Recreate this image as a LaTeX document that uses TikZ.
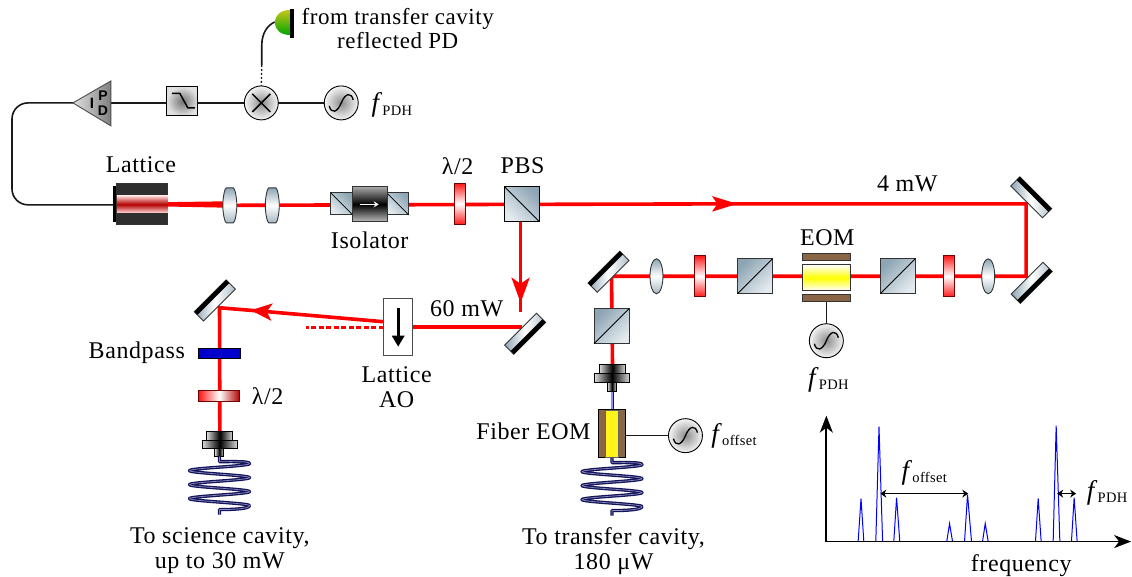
\documentclass[tikz,border=0pt]{standalone}
\usepackage{fontspec}
\setmainfont[LetterSpace=2.5]{Liberation Serif}
\setsansfont{Liberation Sans}
\usetikzlibrary{arrows.meta,shapes.geometric}
\pgfdeclarelayer{bg}
\pgfdeclarelayer{paper}
\pgfsetlayers{paper,bg,main}
\definecolor{slate}{HTML}{8DA5B4}
\definecolor{slatelight}{HTML}{E4EBEF}
\definecolor{brownplate}{HTML}{8A6647}
\definecolor{navy}{HTML}{14145A}
\definecolor{edge}{HTML}{333333}
\newcommand\fsub[1]{{\fontsize{27}{27}\selectfont\textit{f}}\kern-0.5pt\raisebox{-3.5pt}{\fontsize{14.5}{14}\selectfont #1}}
\newcommand\sinewave[1]{\draw[line width=1.3pt,shift={(#1.center)}] (-12,3) .. controls (-10,11) and (-4,10) .. (0,0) .. controls (4,-10) and (10,-11) .. (12,-3);}
\newcommand\fibercoil[1]{\draw[fiber,shift={(#1)}] (0,0) -- (0,5) .. controls (15,5) and (30,4.5) .. (30,7)
 .. controls (30,9.5) and (-30,11.5) .. (-30,14)
 .. controls (-30,16.5) and (30,18.5) .. (30,21)
 .. controls (30,23.5) and (-30,25.5) .. (-30,28)
 .. controls (-30,30.5) and (30,32.5) .. (30,35)
 .. controls (30,37.5) and (-30,39.5) .. (-30,42)
 .. controls (-30,44.5) and (30,46.5) .. (30,49)
 .. controls (30,52) and (15,53) .. (0,53) -- (0,58);}
\newcommand\mirrorunit[4]{% name, x, y, angle
 \node[mirrorbody,rotate=#4] (#1) at (#2,#3) {};
 \node[mirrorbar,rotate=#4,anchor=north] (#1bar) at (#1.north) {};}
\newcommand\barrel[2]{% name, position
 \coordinate (#1) at (#2);
 \draw[draw=edge,line width=0.9pt,top color=slate,bottom color=slate!80,middle color=white,shift={(#1)}]
  (-3.5,-17.5) -- (3.5,-17.5) .. controls (5,-17.5) and (7,-8) .. (7,0) .. controls (7,8) and (5,17.5) .. (3.5,17.5)
  -- (-3.5,17.5) .. controls (-5,17.5) and (-7,8) .. (-7,0) .. controls (-7,-8) and (-5,-17.5) .. (-3.5,-17.5) -- cycle;}
\tikzset{
 lab/.style={font=\fontsize{24}{25}\selectfont,align=center,inner sep=0pt,outer sep=0pt},
 comp/.style={rectangle,inner sep=0pt,outer sep=0pt,draw=edge,line width=0.9pt},
 beam/.style={draw=red,line width=3.6pt},
 wire/.style={draw=black!90,line width=1.6pt},
 fiber/.style={draw=navy,line width=1.3pt,double=black!10!blue!30!gray!70,double distance=0.7pt,line join=round},
 mirrorbody/.style={comp,minimum width=45pt,minimum height=13pt,left color=slate,right color=slate!70,middle color=white},
 mirrorbar/.style={rectangle,inner sep=0pt,outer sep=0pt,fill=black,minimum width=45pt,minimum height=4.5pt},
 cube/.style={comp,minimum width=35pt,minimum height=35pt,top color=slate,bottom color=slatelight,shading angle=#1},
 lensbar/.style={comp,ellipse,minimum width=13pt,minimum height=35pt,top color=slate,bottom color=slate!80,middle color=white},
 plate/.style={comp,draw=red!45!black,minimum width=11pt,minimum height=41pt,top color=red!90,bottom color=red!90,middle color=white},
 plateh/.style={comp,draw=red!45!black,minimum width=41pt,minimum height=11pt,left color=red!90,right color=red!70!black,middle color=white},
 roundel/.style={comp,circle,minimum size=34pt,draw=black,inner color=black!45,outer color=black!4},
 coupler/.style={comp,draw=black,left color=black!15,right color=black!15,middle color=black},
 peak/.style={draw=blue,line width=1pt},
 axis/.style={draw=black,line width=1.8pt,-{Stealth[length=17pt,width=13pt,inset=5pt]}},
 span/.style={draw=black,line width=1.6pt,{Stealth[length=6pt,width=8pt]}-{Stealth[length=6pt,width=8pt]}},
 ampfont/.style={inner sep=0pt,font=\sffamily\bfseries\fontsize{#1}{#1}\selectfont},
}
\begin{document}
\begin{tikzpicture}[x=1pt,y=-1pt]
\begin{pgfonlayer}{paper}
\path[use as bounding box,fill=white] (0,0) rectangle (1132,577);
\end{pgfonlayer}

% detector
\fill[black] (290,9) rectangle (294,38);
\shade[top color=yellow!75!black!90,bottom color=green!65!black,shading angle=0] (290,10) .. controls (270,10) and (270,35) .. (290,35) -- cycle;
\coordinate (pdout) at (275,22);
\coordinate (pdturn) at (262,65);

% top chain
\node[roundel] (mix) at (261.5,103) {};
\draw[line width=1.5pt,shift={(mix.center)}] (-9,-9) -- (9,9) (-9,9) -- (9,-9);
\node[roundel] (osctop) at (341.5,103) {};
\sinewave{osctop}
\node[comp,draw=black,minimum width=31pt,minimum height=29pt,inner color=black!55,outer color=black!12] (filt) at (182.5,101.5) {};
\draw[line width=1.5pt] (172,93.5) -- (180,93.5) -- (188,108) -- (195,108);
\coordinate (amptip) at (73,103);
\coordinate (ampbase) at (111,103);
\draw[draw=black!70,line width=0.9pt,left color=black!12,right color=black!50] (amptip) -- (111,81) -- (111,126) -- cycle;
\node[ampfont=15] (ampI) at (92,103) {I};
\node[ampfont=14] (ampP) at (103,95.5) {P};
\node[ampfont=14] (ampD) at (103,110.5) {D};

% lattice
\fill[black] (113,186) rectangle (117,222);
\node[comp,fill=black!82,minimum width=51pt,minimum height=41pt] (lat) at (142.5,204) {};
\node[rectangle,inner sep=0pt,minimum width=51pt,minimum height=17pt,top color=red!15!white,bottom color=red!15!white,middle color=red!70!black] (latband) at (142.5,204.5) {};

% main line
\barrel{l1}{230,205.5}
\barrel{l2}{272.5,205.5}
\node[cube=-45,minimum width=22pt,minimum height=22pt] (isoL) at (342,204) {};
\draw[line width=0.8pt] (isoL.north west) -- (isoL.south east);
\node[cube=-45,minimum width=22pt,minimum height=22pt] (isoR) at (398,204) {};
\draw[line width=0.8pt] (isoR.north west) -- (isoR.south east);
\node[comp,minimum width=35pt,minimum height=35pt,top color=black!35,bottom color=black!25,middle color=black] (isoM) at (370,204.5) {};
\draw[white,line width=1.5pt,-{Stealth[length=5pt,width=6pt]}] ([xshift=-10pt]isoM.center) -- ([xshift=9pt]isoM.center);
\node[plate] (wp1) at (460.5,204) {};
\node[cube=-45,draw=black] (pbs1) at (522.5,204.5) {};
\draw[line width=0.9pt] (pbs1.north west) -- (pbs1.south east);

% right branch
\mirrorunit{mTR}{1032}{197.5}{-45}
\mirrorunit{mBR}{1032.5}{283}{225}
\node[lensbar] (l3) at (989,276.5) {};
\node[plate] (wp2) at (949.5,276.5) {};
\node[cube=45] (pbs2) at (898.5,276.5) {};
\draw[line width=0.9pt] (pbs2.south west) -- (pbs2.north east);
\node[comp,minimum width=48pt,minimum height=26pt,top color=white,bottom color=white,middle color=yellow] (eom) at (827,278) {};
\node[comp,fill=brownplate,minimum width=48pt,minimum height=7pt] (eomT) at (827,257.5) {};
\node[comp,fill=brownplate,minimum width=48pt,minimum height=7pt] (eomB) at (827,298.5) {};
\node[roundel] (osceom) at (827,341) {};
\sinewave{osceom}
\node[cube=45] (pbs3) at (755.5,276.5) {};
\draw[line width=0.9pt] (pbs3.south west) -- (pbs3.north east);
\node[plate] (wp3) at (700.5,276.5) {};
\node[lensbar] (l4) at (657,276.5) {};
\mirrorunit{mTL}{609}{272}{45}
\node[cube=45] (pbs4) at (612,326.5) {};
\draw[line width=0.9pt] (pbs4.south west) -- (pbs4.north east);

% transfer fibre
\node[coupler,minimum width=26pt,minimum height=9pt] (cTa) at (613,369.5) {};
\node[coupler,minimum width=35pt,minimum height=9pt] (cTb) at (612.5,378.5) {};
\node[coupler,minimum width=9pt,minimum height=9pt] (cTc) at (612.5,387.5) {};
\node[comp,draw=black,fill=brownplate,minimum width=27pt,minimum height=48pt] (feom) at (612.5,434) {};
\node[comp,draw=black!60,line width=0.5pt,fill=yellow!90!white,minimum width=13pt,minimum height=47pt] (feomy) at (612.5,434) {};
\node[roundel] (oscf) at (686,436) {};
\sinewave{oscf}

% science arm
\mirrorunit{mAO}{525.5}{334}{225}
\node[comp,draw=black!70,fill=white,minimum width=29pt,minimum height=57pt] (ao) at (398.5,327.5) {};
\coordinate (aoT) at (398.5,308);
\coordinate (aoB) at (398.5,347);
\draw[line width=3pt,-{Stealth[length=11pt,width=12pt,inset=0pt]}] (aoT) -- (aoB);
\mirrorunit{mSC}{215}{300.7}{45}
\node[comp,draw=black,line width=1.2pt,fill=blue!80!black,minimum width=42pt,minimum height=10pt] (bp) at (219.5,353.5) {};
\node[plateh] (wp4) at (219.5,396.5) {};
\node[coupler,minimum width=26pt,minimum height=9pt] (cSa) at (220,436.5) {};
\node[coupler,minimum width=35pt,minimum height=8pt] (cSb) at (220,445) {};
\node[coupler,minimum width=9pt,minimum height=8pt] (cSc) at (219.5,453) {};

% beam points
\coordinate (rTR) at (1027,204);
\coordinate (rBR) at (1027,276.5);
\coordinate (rTL) at (612,276.5);
\coordinate (rSC) at (219.7,308);
\coordinate (a4) at (738,204);
\coordinate (a4s) at (728,204);
\coordinate (adown) at (521,303);
\coordinate (adowns) at (521,292);
\coordinate (dstop) at (521,312.5);
\coordinate (rAO) at (522,327.5);
\coordinate (aoout) at (384,322);
\coordinate (aleft) at (251,310.5);
\coordinate (alefts) at (262,311.5);
\coordinate (dash) at (306,327.5);
\coordinate (coil1) at (219.7,457);
\coordinate (coil2) at (612.5,458);

\begin{pgfonlayer}{bg}
\fill[red] (168,202.3) -- (224,201.5) -- (224,207.8) -- (168,206.7) -- cycle;
\draw[beam] (l1) -- (pbs1.center);
\draw[beam,-{Stealth[length=25pt,width=15pt,inset=5pt]}] (pbs1.east) -- (a4);
\draw[beam,miter limit=10] (a4s) -- (rTR) -- (rBR) -- (rTL) -- (cTa.north);
\draw[beam,-{Stealth[length=25pt,width=18pt,inset=6pt]}] (pbs1.south -| adown) -- (adown);
\draw[beam] (adowns) -- (dstop);
\draw[beam] (rAO) -- (ao.east);
\draw[beam,-{Stealth[length=21pt,width=17pt,inset=5pt]}] (aoout) -- (aleft);
\draw[beam] (alefts) -- (rSC) -- (cSa.north);
\draw[draw=red,line width=2.8pt,dash pattern=on 5pt off 2.5pt] (ao.west) -- (dash);
\draw[draw=navy,line width=3pt] (cTc.south) -- (feom.north);
\draw[draw=black!10!blue!45!white,line width=1.2pt] (cTc.south) -- (feom.north);
\end{pgfonlayer}

% wires
\begin{pgfonlayer}{bg}
\draw[wire] (pdout) .. controls (268,25) and (262,33) .. (262,45) -- (pdturn);
\draw[wire,line width=1.3pt,dash pattern=on 2pt off 2pt] (pdturn) -- (mix.north);
\draw[wire] (osctop.west) -- (mix.east);
\draw[wire] (mix.west) -- (filt.east |- mix.west);
\draw[wire] (filt.west |- mix.west) -- (ampbase);
\draw[wire,rounded corners=16pt] (amptip) -- (12,103) -- (12,205) -- (lat.west |- 0,205);
\draw[wire] (eomB.south) -- (osceom.north);
\draw[wire] (feom.east |- oscf.west) -- (oscf.west);
\end{pgfonlayer}

\fibercoil{coil1}
\fibercoil{coil2}

% spectrum
\coordinate (org) at (827,542);
\coordinate (yend) at (827,416);
\coordinate (xend) at (1132,542);
\draw[peak] (858.8,542) -- (861.7,499) -- (864.5,542);
\draw[peak] (876.5,542) -- (879.7,427) -- (883.3,542);
\draw[peak] (894.5,542) -- (897.3,498) -- (900.5,542);
\draw[peak] (947.5,542) -- (950.3,524) -- (953.3,542);
\draw[peak] (965.3,542) -- (968.3,495) -- (972.3,542);
\draw[peak] (983.3,542) -- (986,524) -- (989,542);
\draw[peak] (1036.3,542) -- (1039,498.7) -- (1042,542);
\draw[peak] (1054,542) -- (1057,426) -- (1060.7,542);
\draw[peak] (1072.3,542) -- (1075,498) -- (1078,542);
\draw[axis] (org) -- (yend);
\draw[axis] (org) -- (xend);
\coordinate (s1a) at (881,494);
\coordinate (s1b) at (969,494);
\coordinate (s2a) at (1058,494);
\coordinate (s2b) at (1077,494);
\draw[span] (s1a) -- (s1b);
\draw[span] (s2a) -- (s2b);

% labels
\node[lab,font=\fontsize{23}{24}\selectfont] (t1) at (398,29) {from transfer cavity\\reflected PD};
\node[lab,anchor=west] (t2) at (372,105) {\fsub{PDH}};
\node[lab] (t3) at (141,165) {Lattice};
\node[lab] (t4) at (370,240) {Isolator};
\node[lab] (t5) at (458,166) {λ/2};
\node[lab] (t6) at (523,166) {PBS};
\node[lab] (t7) at (908,184) {4 mW};
\node[lab] (t8) at (828,238) {EOM};
\node[lab] (t9) at (829,380) {\fsub{PDH}};
\node[lab] (t10) at (467,309) {60 mW};
\node[lab] (t11) at (397,387) {Lattice\\AO};
\node[lab,anchor=east] (t12) at (185,353) {Bandpass};
\node[lab,anchor=west] (t13) at (252,396) {λ/2};
\node[lab] (t14) at (220,551) {To science cavity,\\up to 30 mW};
\node[lab,anchor=east] (t15) at (591,432) {Fiber EOM};
\node[lab,anchor=west] (t16) at (712,436) {\fsub{offset}};
\node[lab] (t17) at (614,552) {To transfer cavity,\\180 μW};
\node[lab] (t18) at (925,473) {\fsub{offset}};
\node[lab] (t19) at (1108,493) {\fsub{PDH}};
\node[lab] (t20) at (1022,566) {frequency};
\end{tikzpicture}
\end{document}
